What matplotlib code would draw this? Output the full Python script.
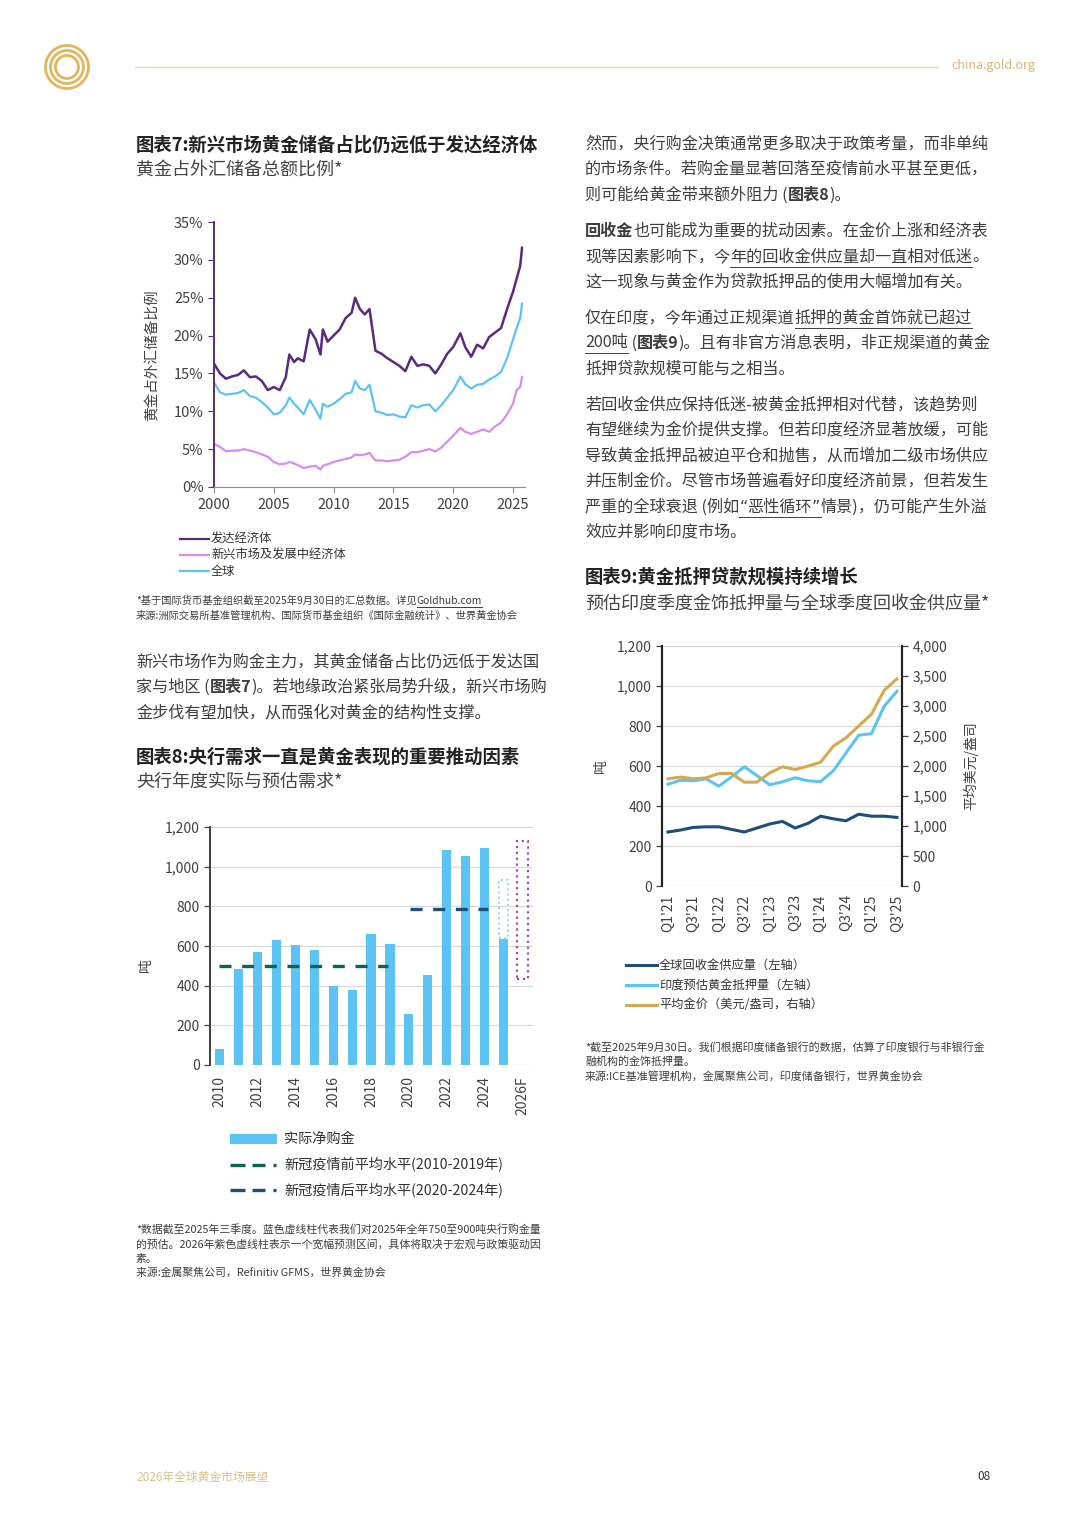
import numpy as np
import matplotlib
matplotlib.use('Agg')
import matplotlib.pyplot as plt
from matplotlib.patches import Rectangle, Circle

plt.rcParams['font.family'] = ['Noto Sans CJK SC', 'DejaVu Sans']

W, H = 1080, 1527

# ---- chart 7 data: gold share of FX reserves (%)
years7 = [2000, 2000.5, 2001, 2001.5, 2002, 2002.5, 2003, 2003.5, 2004, 2004.5,
          2005, 2005.5, 2006, 2006.3, 2006.7, 2007, 2007.5, 2008, 2008.5, 2008.9,
          2009.1, 2009.5, 2010, 2010.5, 2011, 2011.5, 2011.8, 2012.2, 2012.6, 2013,
          2013.5, 2014, 2014.5, 2015, 2015.5, 2016, 2016.5, 2017, 2017.5, 2018,
          2018.5, 2019, 2019.5, 2020, 2020.6, 2021, 2021.5, 2022, 2022.5, 2023,
          2023.5, 2024, 2024.5, 2025, 2025.3, 2025.6, 2025.75]
developed = [16.3, 15.0, 14.3, 14.6, 14.8, 15.4, 14.5, 14.6, 14.0, 12.8,
             13.2, 12.8, 14.5, 17.5, 16.5, 17.0, 16.6, 20.8, 19.5, 17.5,
             20.8, 19.2, 20.0, 20.8, 22.3, 23.0, 25.0, 23.5, 22.8, 23.5,
             18.0, 17.6, 17.0, 16.5, 16.0, 15.3, 17.2, 16.0, 16.2, 16.0,
             15.0, 16.2, 17.6, 18.5, 20.3, 18.5, 17.2, 18.8, 18.3, 19.8,
             20.4, 21.0, 23.5, 25.8, 27.5, 29.2, 31.6]
emerging = [5.7, 5.3, 4.7, 4.8, 4.8, 5.0, 4.8, 4.6, 4.3, 4.0,
            3.3, 3.0, 3.1, 3.3, 3.1, 2.9, 2.5, 2.7, 2.8, 2.3,
            2.8, 3.0, 3.3, 3.5, 3.7, 3.9, 4.3, 4.2, 4.3, 4.5,
            3.5, 3.5, 3.4, 3.5, 3.6, 4.0, 4.6, 4.6, 4.8, 5.0,
            4.7, 5.2, 6.0, 6.8, 7.8, 7.3, 7.0, 7.3, 7.6, 7.3,
            8.0, 8.5, 9.6, 11.0, 12.8, 13.2, 14.5]
world = [13.8, 12.5, 12.2, 12.3, 12.4, 12.8, 12.0, 11.8, 11.2, 10.5,
         9.6, 9.8, 10.8, 11.8, 11.0, 10.5, 9.6, 11.5, 10.2, 9.0,
         11.0, 10.6, 11.0, 11.6, 12.3, 12.5, 14.0, 13.0, 12.8, 13.5,
         10.0, 9.8, 9.5, 9.6, 9.3, 9.2, 10.8, 10.5, 10.8, 10.9,
         10.0, 10.8, 11.8, 12.8, 14.6, 13.6, 13.0, 13.5, 13.6, 14.2,
         14.6, 15.2, 17.0, 19.5, 21.0, 22.3, 24.2]
ticks7 = [2000, 2005, 2010, 2015, 2020, 2025]

# ---- chart 8 data: central bank demand (t)
years8 = ['2010', '2011', '2012', '2013', '2014', '2015', '2016', '2017', '2018',
          '2019', '2020', '2021', '2022', '2023', '2024', '2025', '2026F']
cb_buying = [81, 483, 571, 631, 604, 581, 399, 380, 660, 609, 258, 453, 1084, 1054, 1093, 635]
pre_covid_avg = 498
post_covid_avg = 786
est_2025 = (640, 935)
range_2026 = (434, 1128)
yticks8 = [0, 200, 400, 600, 800, 1000, 1200]

# ---- chart 9 data: quarterly
quarters = ["Q1'21", "Q2'21", "Q3'21", "Q4'21", "Q1'22", "Q2'22", "Q3'22", "Q4'22",
            "Q1'23", "Q2'23", "Q3'23", "Q4'23", "Q1'24", "Q2'24", "Q3'24", "Q4'24",
            "Q1'25", "Q2'25", "Q3'25"]
recycling = [270, 280, 293, 296, 296, 283, 270, 290, 310, 323, 290, 313, 349, 336, 326, 359, 349, 349, 343]
india_loans = [509, 529, 526, 536, 499, 546, 596, 552, 506, 521, 541, 526, 522, 576, 666, 754, 762, 899, 973]
gold_price = [1786, 1816, 1786, 1803, 1875, 1875, 1731, 1731, 1886, 1986, 1942, 1997, 2064, 2330, 2470,
              2668, 2863, 3262, 3451]

c_dev = '#5b2a80'
c_em = '#d68cf0'
c_world = '#5cc3f5'
c_bar = '#5cc3f5'
c_green = '#0b6650'
c_navy = '#1f4e79'
c_gold = '#d6a94e'
c_text = '#3d3d3d'
c_tick = '#404040'

fig = plt.figure(figsize=(W / 100, H / 100), dpi=100)
page = fig.add_axes([0, 0, 1, 1])
page.set_xlim(0, W)
page.set_ylim(H, 0)
page.axis('off')
rend = fig.canvas.get_renderer()


def rect(l, t, r, b):
    return [l / W, 1 - b / H, (r - l) / W, (b - t) / H]


def rich(x, y, parts, size, color=c_text):
    # parts: (text, style) with b = bold, u = underline, q = latin font
    for txt, st in parts:
        kw = {'family': ['DejaVu Sans']} if 'q' in st else {}
        t = page.text(x, y, txt, fontsize=size, color=color, va='center', ha='left',
                      fontweight='bold' if 'b' in st else 'normal', **kw)
        w = t.get_window_extent(renderer=rend).width
        if 'u' in st:
            page.plot([x, x + w], [y + size * 0.85, y + size * 0.85], color=color, lw=0.7)
        x += w


# header
for r in [21.5, 16.5, 11.5]:
    page.add_patch(Circle((67, 67), r, fill=False, ec='#e2b65c', lw=2))
page.plot([135, 938], [67, 67], color='#e9d8ab', lw=1)
page.text(951, 66, 'china.gold.org', fontsize=9, color='#d6b776', va='center')

# footer
page.text(136, 1477, '2026年全球黄金市场展望', fontsize=8.5, color='#dcc187', va='center')
page.text(990, 1477, '08', fontsize=8.5, color='#333333', va='center', ha='right')

# ---------------- chart 7
page.text(136, 145, '图表7:新兴市场黄金储备占比仍远低于发达经济体', fontsize=13.2,
          fontweight='bold', color='#222222', va='center')
page.text(136, 171, '黄金占外汇储备总额比例*', fontsize=13, color='#444444', va='center')

ax7 = fig.add_axes(rect(214, 222, 525, 487))
ax7.plot(years7, emerging, color=c_em, lw=1.6)
ax7.plot(years7, world, color=c_world, lw=1.6)
ax7.plot(years7, developed, color=c_dev, lw=1.8)
ax7.set_xlim(2000, 2026)
ax7.set_ylim(0, 35)
ax7.set_xticks(ticks7)
ax7.set_yticks(range(0, 36, 5))
ax7.set_yticklabels([f'{v}%' for v in range(0, 36, 5)])
for s in ['top', 'right']:
    ax7.spines[s].set_visible(False)
ax7.spines['left'].set_color(c_dev)
ax7.spines['left'].set_linewidth(1.4)
ax7.spines['bottom'].set_color('#8c8c8c')
ax7.tick_params(axis='both', labelsize=10.5, colors=c_tick, length=4, width=0.8)
ax7.tick_params(axis='y', color=c_dev)
ax7.tick_params(axis='x', color='#8c8c8c', pad=4)
page.text(153, 355, '黄金占外汇储备比例', fontsize=10.5, color=c_tick, rotation=90,
          va='center', ha='center')

for yy, col, lab in [(539, c_dev, '发达经济体'), (555, c_em, '新兴市场及发展中经济体'), (571, c_world, '全球')]:
    page.plot([180, 209], [yy, yy], color=col, lw=1.6)
    page.text(211, yy, lab, fontsize=8.8, color='#333333', va='center')

rich(136, 601, [('*基于国际货币基金组织截至2025年9月30日的汇总数据。详见', ''), ('Goldhub.com', 'u')], 7.4)
rich(136, 616, [('来源:洲际交易所基准管理机构、国际货币基金组织《国际金融统计》、世界黄金协会', '')], 7.4)

# paragraph left
fs = 11.6
rich(136, 662, [('新兴市场作为购金主力，其黄金储备占比仍远低于发达国', '')], fs)
rich(136, 687, [('家与地区 (', ''), ('图表7', 'b'), (')。若地缘政治紧张局势升级，新兴市场购', '')], fs)
rich(136, 713, [('金步伐有望加快，从而强化对黄金的结构性支撑。', '')], fs)

# ---------------- chart 8
page.text(136, 757, '图表8:央行需求一直是黄金表现的重要推动因素', fontsize=13.2,
          fontweight='bold', color='#222222', va='center')
page.text(136, 782, '央行年度实际与预估需求*', fontsize=13, color='#444444', va='center')

ax8 = fig.add_axes(rect(210, 827, 533, 1065))
x8 = np.arange(len(years8))
ax8.bar(x8[:len(cb_buying)], cb_buying, width=0.48, color=c_bar, zorder=3)
ax8.add_patch(Rectangle((15 - 0.24, est_2025[0]), 0.48, est_2025[1] - est_2025[0], fill=False,
                        ec='#8ed6f7', ls=':', lw=1.4, zorder=4))
ax8.add_patch(Rectangle((16 - 0.28, range_2026[0]), 0.56, range_2026[1] - range_2026[0], fill=False,
                        ec='#9b4cc4', ls=':', lw=1.6, zorder=4))
ax8.plot([-0.05, 8.9], [pre_covid_avg] * 2, color=c_green, lw=2.4, ls=(0, (3.6, 3.2)), zorder=5)
ax8.plot([10.05, 14.2], [post_covid_avg] * 2, color=c_navy, lw=2.4, ls=(0, (3.6, 3.2)), zorder=5)
ax8.set_xlim(-0.5, 16.55)
ax8.set_ylim(0, 1200)
ax8.set_yticks(yticks8)
ax8.set_yticklabels([f'{v:,}' for v in yticks8])
ax8.set_xticks(x8[::2])
ax8.set_xticklabels(years8[::2], rotation=90)
ax8.grid(axis='y', color='#d9d9d9', lw=0.9, zorder=0)
for s in ['top', 'right', 'bottom']:
    ax8.spines[s].set_visible(False)
ax8.spines['left'].set_color('#404040')
ax8.spines['left'].set_linewidth(1.4)
ax8.tick_params(axis='y', labelsize=10, colors=c_tick, length=4, width=0.9)
ax8.tick_params(axis='x', labelsize=10, colors=c_tick, length=0, pad=8)
page.text(146, 965, '吨', fontsize=10, color=c_tick, rotation=90, va='center', ha='center')

page.add_patch(Rectangle((230, 1134), 47, 10, color=c_bar, lw=0))
page.text(284, 1139, '实际净购金', fontsize=10.2, color='#333333', va='center')
for yy, col, lab in [(1165, c_green, '新冠疫情前平均水平(2010-2019年)'),
                     (1190, c_navy, '新冠疫情后平均水平(2020-2024年)')]:
    for a, b in [(230, 245), (252, 265), (273, 276)]:
        page.plot([a, b], [yy, yy], color=col, lw=2.4, solid_capstyle='butt')
    page.text(284, yy, lab, fontsize=10.2, color='#333333', va='center')

fn = 7.8
rich(136, 1229, [('*数据截至2025年三季度。蓝色虚线柱代表我们对2025年全年750至900吨央行购金量', '')], fn)
rich(136, 1244, [('的预估。2026年紫色虚线柱表示一个宽幅预测区间，具体将取决于宏观与政策驱动因', '')], fn)
rich(136, 1259, [('素。', '')], fn)
rich(136, 1273, [('来源:金属聚焦公司，Refinitiv GFMS，世界黄金协会', '')], fn)

# ---------------- right column text
rich(585, 144, [('然而，央行购金决策通常更多取决于政策考量，而非单纯', '')], fs)
rich(585, 169, [('的市场条件。若购金量显著回落至疫情前水平甚至更低，', '')], fs)
rich(585, 195, [('则可能给黄金带来额外阻力 (', ''), ('图表8', 'b'), (')。', '')], fs)
rich(585, 231, [('回收金', 'b'), ('也可能成为重要的扰动因素。在金价上涨和经济表', '')], fs)
rich(585, 257, [('现等因素影响下，今', ''), ('年的回收金供应量却一直相对低迷', 'u'), ('。', '')], fs)
rich(585, 282, [('这一现象与黄金作为贷款抵押品的使用大幅增加有关。', '')], fs)
rich(585, 318, [('仅在印度，今年通过正规渠道', ''), ('抵押的黄金首饰就已超过', 'u')], fs)
rich(585, 343, [('200吨', 'u'), (' (', ''), ('图表9', 'b'), (')。且有非官方消息表明，非正规渠道的黄金', '')], fs)
rich(585, 369, [('抵押贷款规模可能与之相当。', '')], fs)
rich(585, 405, [('若回收金供应保持低迷-被黄金抵押相对代替，该趋势则', '')], fs)
rich(585, 430, [('有望继续为金价提供支撑。但若印度经济显著放缓，可能', '')], fs)
rich(585, 456, [('导致黄金抵押品被迫平仓和抛售，从而增加二级市场供应', '')], fs)
rich(585, 481, [('并压制金价。尽管市场普遍看好印度经济前景，但若发生', '')], fs)
rich(585, 507, [('严重的全球衰退 (例如', ''), ('“', 'uq'), ('恶性循环', 'u'), ('”', 'uq'),
                ('情景)，仍可能产生外溢', '')], fs)
rich(585, 532, [('效应并影响印度市场。', '')], fs)

# ---------------- chart 9
page.text(585, 577, '图表9:黄金抵押贷款规模持续增长', fontsize=13.2,
          fontweight='bold', color='#222222', va='center')
page.text(585, 604, '预估印度季度金饰抵押量与全球季度回收金供应量*', fontsize=13,
          color='#444444', va='center')

ax9 = fig.add_axes(rect(662, 646, 902, 886))
x9 = np.arange(len(quarters))
ax9.plot(x9, recycling, color=c_navy, lw=2.2, zorder=4)
ax9.plot(x9, india_loans, color=c_world, lw=2.2, zorder=4)
ax9.set_xlim(-0.47, 18.4)
ax9.set_ylim(0, 1200)
ax9.set_yticks(yticks8)
ax9.set_yticklabels([f'{v:,}' for v in yticks8])
ax9.set_xticks(x9[::2])
ax9.set_xticklabels(quarters[::2], rotation=90)
ax9.grid(axis='y', color='#d9d9d9', lw=0.9, zorder=0)
ax9r = ax9.twinx()
ax9r.plot(x9, gold_price, color=c_gold, lw=2.2, zorder=3)
ax9r.set_ylim(0, 4000)
ax9r.set_yticks(range(0, 4001, 500))
ax9r.set_yticklabels([f'{v:,}' for v in range(0, 4001, 500)])
for a in [ax9, ax9r]:
    a.spines['top'].set_visible(False)
    a.spines['bottom'].set_visible(False)
    a.spines['left'].set_color('#222222')
    a.spines['right'].set_color('#222222')
    a.spines['left'].set_linewidth(1.5)
    a.spines['right'].set_linewidth(1.5)
    a.tick_params(axis='y', labelsize=10, colors=c_tick, length=4, width=0.9)
ax9.tick_params(axis='x', labelsize=10, colors=c_tick, length=0, pad=6)
page.text(601, 766, '吨', fontsize=10, color=c_tick, rotation=90, va='center', ha='center')
page.text(971, 766, '平均美元/盎司', fontsize=10, color=c_tick, rotation=90, va='center', ha='center')

for yy, col, lab in [(965, c_navy, '全球回收金供应量（左轴）'), (985, c_world, '印度预估黄金抵押量（左轴）'),
                     (1005, c_gold, '平均金价（美元/盎司，右轴）')]:
    page.plot([626, 657], [yy, yy], color=col, lw=2.2)
    page.text(659, yy, lab, fontsize=8.8, color='#333333', va='center')

fn9 = 7.9
rich(585, 1047, [('*截至2025年9月30日。我们根据印度储备银行的数据，估算了印度银行与非银行金', '')], fn9)
rich(585, 1062, [('融机构的金饰抵押量。', '')], fn9)
rich(585, 1076, [('来源:ICE基准管理机构，金属聚焦公司，印度储备银行，世界黄金协会', '')], fn9)

fig.savefig('out.png', dpi=100, facecolor='white')
